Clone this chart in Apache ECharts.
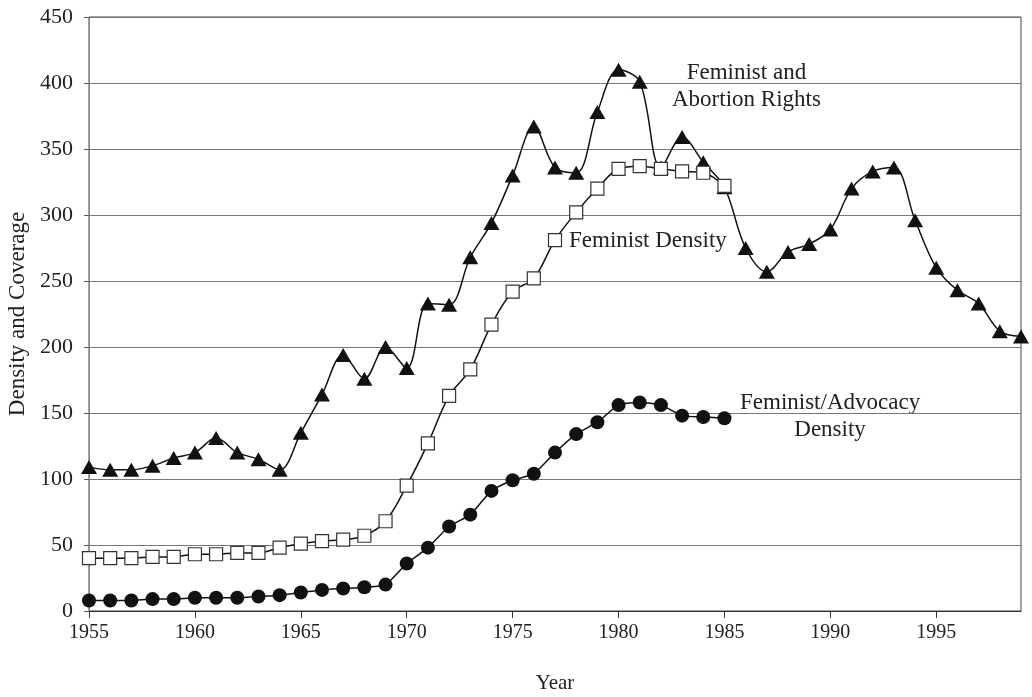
<!DOCTYPE html>
<html>
<head>
<meta charset="utf-8">
<script src="https://cdn.jsdelivr.net/npm/echarts@6/dist/echarts.min.js"></script>
<style>html,body{margin:0;padding:0;background:#fff;}#c{width:1032px;height:697px;}</style>
</head>
<body>
<div id="c"></div>
<script>
var years = [];
for (var y = 1955; y <= 1999; y++) years.push(y);

var abortionRights = [109,107,107,110,116,120,131,120,115,107,
  135,164,194,176,200,184,233,232,268,294,
  330,367,336,332,378,410,401,336,359,340,
  321,275,257,272,278,289,320,333,336,296,
  260,243,233,212,208];
var feministDensity = [40,40,40,41,41,43,43,44,44,48,
  51,53,54,57,68,95,127,163,183,217,
  242,252,281,302,320,335,337,335,333,332,
  322];
var advocacyDensity = [8,8,8,9,9,10,10,10,11,12,
  14,16,17,18,20,36,48,64,73,91,
  99,104,120,134,143,156,158,156,148,147,
  146];
var xTickLabels = [1955,1960,1965,1970,1975,1980,1985,1990,1995];
var yTicks = [0,50,100,150,200,250,300,350,400,450];

function pairs(vals){ return vals.map(function(v,i){ return [years[i], v]; }); }

var chart = echarts.init(document.getElementById('c'));
var font = 'Liberation Serif, Times New Roman, serif';
chart.setOption({
  animation: false,
  backgroundColor: '#fff',
  grid: {left: 89, right: 11, top: 17, bottom: 86, outerBoundsMode: 'none', containLabel: false,
    show: true, borderColor: '#444', borderWidth: 1, backgroundColor: 'transparent'},
  xAxis: {
    type: 'value', min: 1955, max: 1999, interval: 5,
    name: 'Year', nameLocation: 'middle', nameGap: 62,
    nameTextStyle: {fontFamily: font, fontSize: 21, color: '#222'},
    axisLine: {show: true, lineStyle: {color: '#333', width: 1}},
    axisTick: {show: true, length: 7, inside: false, customValues: xTickLabels, lineStyle: {color: '#333'}},
    axisLabel: {customValues: xTickLabels, fontFamily: font, fontSize: 20, color: '#222', margin: 12,
      formatter: function(v){ return String(v); }},
    splitLine: {show: false}
  },
  yAxis: {
    type: 'value', min: 0, max: 450, interval: 50,
    name: 'Density and Coverage', nameLocation: 'middle', nameGap: 60, nameRotate: 90,
    nameTextStyle: {fontFamily: font, fontSize: 23, color: '#222'},
    axisLine: {show: true, lineStyle: {color: '#888', width: 1}},
    axisTick: {show: true, length: 5, lineStyle: {color: '#555'}},
    axisLabel: {fontFamily: font, fontSize: 22, color: '#222', margin: 16},
    splitLine: {show: true, lineStyle: {color: '#777', width: 1}}
  },
  series: [
    {
      name: 'Feminist and Abortion Rights', type: 'line', data: pairs(abortionRights),
      smooth: 0.35, symbol: 'triangle', symbolSize: [16, 14],
      itemStyle: {color: '#111'}, lineStyle: {color: '#111', width: 1.5}, z: 3
    },
    {
      name: 'Feminist Density', type: 'line', data: pairs(feministDensity),
      smooth: 0.35, symbol: 'rect', symbolSize: 13,
      itemStyle: {color: '#fff', borderColor: '#333', borderWidth: 1.2},
      lineStyle: {color: '#111', width: 1.5}, z: 4
    },
    {
      name: 'Feminist/Advocacy Density', type: 'line', data: pairs(advocacyDensity),
      smooth: 0.2, symbol: 'circle', symbolSize: 14,
      itemStyle: {color: '#111'}, lineStyle: {color: '#111', width: 1.5}, z: 3
    }
  ],
  graphic: [
    {type: 'text', left: 672, top: 59, style: {text: 'Feminist and\nAbortion Rights', font: '23px ' + font, fill: '#222', textAlign: 'center', lineHeight: 27}},
    {type: 'text', left: 569, top: 229, style: {text: 'Feminist Density', font: '23px ' + font, fill: '#222'}},
    {type: 'text', left: 740, top: 389, style: {text: 'Feminist/Advocacy\nDensity', font: '23px ' + font, fill: '#222', textAlign: 'center', lineHeight: 27}}
  ]
});
</script>
</body>
</html>
